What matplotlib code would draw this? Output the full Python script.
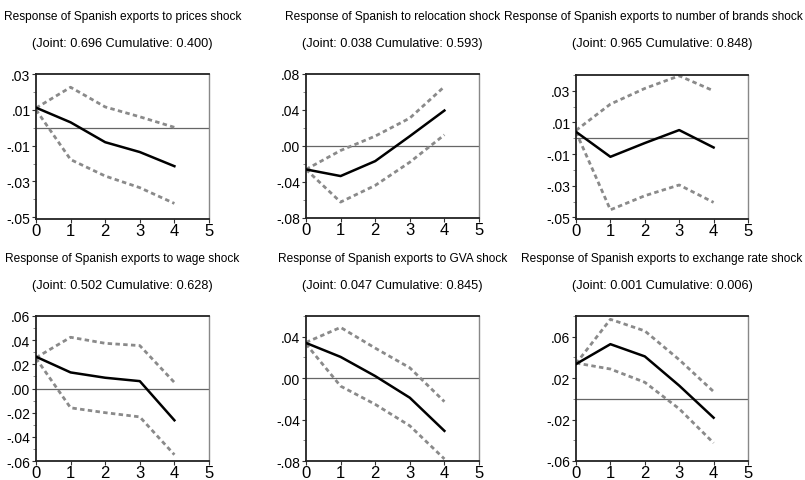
import matplotlib
matplotlib.use("Agg")
import matplotlib.pyplot as plt
import numpy as np

# Impulse responses of Spanish exports (point estimate with +/- 2 s.e. bands)
periods = [0, 1, 2, 3, 4]

titles = [
    "Response of Spanish exports to prices shock",
    "Response of Spanish to relocation shock",
    "Response of Spanish exports to number of brands shock",
    "Response of Spanish exports to wage shock",
    "Response of Spanish exports to GVA shock",
    "Response of Spanish exports to exchange rate shock",
]
subtitles = [
    "(Joint: 0.696 Cumulative: 0.400)",
    "(Joint: 0.038 Cumulative: 0.593)",
    "(Joint: 0.965 Cumulative: 0.848)",
    "(Joint: 0.502 Cumulative: 0.628)",
    "(Joint: 0.047 Cumulative: 0.845)",
    "(Joint: 0.001 Cumulative: 0.006)",
]

response = [
    [0.0112, 0.0030, -0.0081, -0.0136, -0.0215],
    [-0.0260, -0.0334, -0.0168, 0.0109, 0.0394],
    [0.0041, -0.0117, -0.0030, 0.0052, -0.0058],
    [0.0263, 0.0133, 0.0089, 0.0061, -0.0263],
    [0.0340, 0.0205, 0.0020, -0.0189, -0.0509],
    [0.0336, 0.0528, 0.0410, 0.0128, -0.0182],
]
upper = [
    [0.0110, 0.0226, 0.0116, 0.0061, 0.0002],
    [-0.0260, -0.0050, 0.0110, 0.0310, 0.0660],
    [0.0050, 0.0216, 0.0315, 0.0395, 0.0300],
    [0.0255, 0.0424, 0.0374, 0.0355, 0.0050],
    [0.0345, 0.0490, 0.0290, 0.0100, -0.0227],
    [0.0340, 0.0768, 0.0656, 0.0378, 0.0070],
]
lower = [
    [0.0100, -0.0178, -0.0270, -0.0335, -0.0423],
    [-0.0260, -0.0623, -0.0438, -0.0180, 0.0124],
    [0.0040, -0.0452, -0.0363, -0.0295, -0.0405],
    [0.0250, -0.0160, -0.0200, -0.0235, -0.0548],
    [0.0330, -0.0077, -0.0253, -0.0460, -0.0780],
    [0.0346, 0.0288, 0.0160, -0.0096, -0.0426],
]

ylims = [(-0.051, 0.030), (-0.08, 0.08), (-0.051, 0.040),
         (-0.06, 0.06), (-0.08, 0.06), (-0.06, 0.08)]
yticks = [
    [0.03, 0.01, -0.01, -0.03, -0.05],
    [0.08, 0.04, 0.00, -0.04, -0.08],
    [0.03, 0.01, -0.01, -0.03, -0.05],
    [0.06, 0.04, 0.02, 0.00, -0.02, -0.04, -0.06],
    [0.04, 0.00, -0.04, -0.08],
    [0.06, 0.02, -0.02, -0.06],
]
yminor_step = [0.01, 0.02, 0.01, 0.01, 0.02, 0.02]
xticks = [0, 1, 2, 3, 4, 5]

plt.rcParams["font.family"] = ["Liberation Sans", "DejaVu Sans"]


def fmt(v):
    s = f"{v:.2f}"
    return s.replace("0.", ".", 1) if s.startswith(("0", "-0")) else s


fig = plt.figure(figsize=(8.05, 4.81), dpi=100)
W, H = 805, 481
boxes = [(36, 75, 209, 220), (306, 75, 479, 219), (576, 76, 748, 220),
         (36, 77, 209, 222), (306, 77, 479, 222), (576, 77, 748, 222)]
title_texts = []
for i in range(6):
    x0, y0, x1, y1 = boxes[i]
    if i >= 3:
        y0 += 240
        y1 += 240
    ax = fig.add_axes([x0 / W, 1 - y1 / H, (x1 - x0) / W, (y1 - y0) / H])
    ax.axhline(0, color="#666666", lw=0.9, zorder=1)
    ax.plot(periods, upper[i], color="#8a8a8a", lw=2.0, ls=(0, (1.6, 1.2)), zorder=2)
    ax.plot(periods, lower[i], color="#8a8a8a", lw=2.0, ls=(0, (1.6, 1.2)), zorder=2)
    ax.plot(periods, response[i], color="black", lw=1.8, zorder=3)
    ax.set_xlim(0, 5)
    ax.set_ylim(*ylims[i])
    ax.set_xticks(xticks)
    ax.set_xticklabels([str(t) for t in xticks], fontsize=12)
    ax.set_yticks(yticks[i])
    ax.set_yticklabels([fmt(v) for v in yticks[i]], fontsize=10)
    lo, hi = ylims[i]
    st = yminor_step[i]
    minors = np.arange(np.ceil(lo / st - 1e-6) * st, hi + 1e-9, st)
    ax.set_yticks(minors, minor=True)
    ax.tick_params(axis="both", which="major", length=3, width=0.8, pad=1, color="#333333")
    ax.tick_params(axis="y", which="minor", length=2, width=0.6, color="#777777")
    ax.tick_params(axis="x", pad=0)
    for side in ("left", "bottom", "top"):
        ax.spines[side].set_color("#222222")
        ax.spines[side].set_linewidth(1.3)
    ax.spines["right"].set_color("#888888")
    ax.spines["right"].set_linewidth(1.0)
    cx = (x0 + x1) / 2 / W
    ty = 17 + (242 if i >= 3 else 0)
    t1 = fig.text(cx, 1 - ty / H, titles[i], ha="center", va="center", fontsize=8.6)
    t2 = fig.text(cx, 1 - (ty + 27) / H, subtitles[i], ha="center", va="center", fontsize=9.2)
    title_texts += [t1, t2]

# keep titles inside the canvas
fig.canvas.draw()
renderer = fig.canvas.get_renderer()
for t in title_texts:
    bb = t.get_window_extent(renderer)
    if bb.x1 > W - 2:
        x, y = t.get_position()
        t.set_position((x - (bb.x1 - (W - 2)) / W, y))
    elif bb.x0 < 2:
        x, y = t.get_position()
        t.set_position((x + (2 - bb.x0) / W, y))

fig.savefig("out.png", dpi=100)
